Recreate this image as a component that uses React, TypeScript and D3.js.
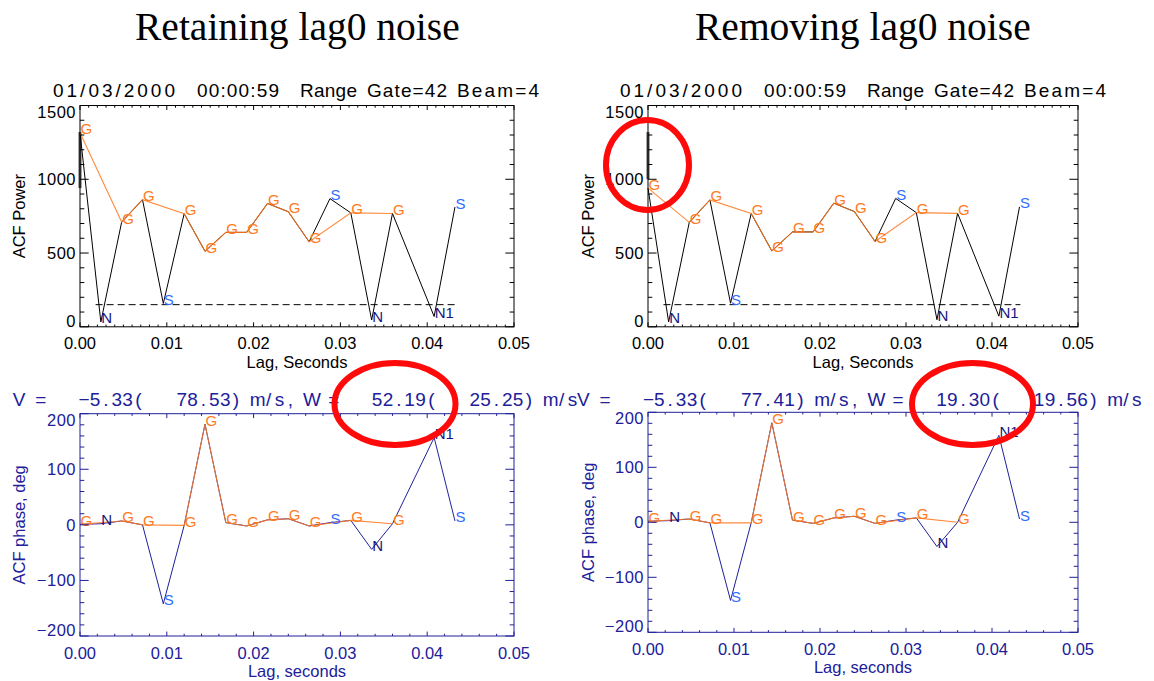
import React from 'react';
import * as d3 from 'd3';

// ---------------- data ----------------
const lagTimes = [0, 0.0024, 0.0048, 0.0072, 0.0096, 0.012, 0.0144, 0.0168, 0.0192, 0.0216, 0.024, 0.0264, 0.0288, 0.0312, 0.0336, 0.036, 0.0408, 0.0432];
const lagFlags = ['G', 'N', 'G', 'G', 'S', 'G', 'G', 'G', 'G', 'G', 'G', 'G', 'S', 'G', 'N', 'G', 'N1', 'S'];
const powerRetain = [1315, 33, 710, 862, 158, 767, 512, 640, 640, 836, 780, 576, 869, 772, 46, 768, 70, 812];
const powerRemove = [940, 33, 708, 860, 160, 768, 514, 643, 643, 838, 781, 578, 870, 774, 48, 769, 72, 813];
const lag0BarRetain = [940, 1320];
const lag0BarRemove = [1000, 1320];
const noiseLevel = 150;
const noiseSpan = [0.0018, 0.0433];
const phaseRetain = [1, 2, 7, 0, -142, -1, 181, 4, -2, 9, 11, -2, 4, 8, -44, 2, 157, 7];
const phaseRemove = [2, 3, 6, -1, -142, -1, 181, 4, -2, 8, 11, -2, 4, 8, -44, 0, 158, 6];
const xTicks = [0, 0.01, 0.02, 0.03, 0.04, 0.05];
const powerTicks = [0, 500, 1000, 1500];
const phaseTicks = [-200, -100, 0, 100, 200];
const titleLeft = 'Retaining lag0 noise';
const titleRight = 'Removing lag0 noise';
const headerParts = ['01/03/2000', '00:00:59', 'Range', 'Gate=42', 'Beam=4'];
const vRetain = 'V =   -5.33(   78.53) m/s, W =   52.19(   25.25) m/s';
const vRemove = 'V =   -5.33(   77.41) m/s, W =   19.30(   19.56) m/s';

// ---------------- styles ----------------
const FONT = "'Liberation Sans', Arial, Helvetica, sans-serif";
const NAVY = '#20209a';
const ORANGE = '#ff7a22';
const flagColor: Record<string, string> = { G: ORANGE, S: '#2f6cff', N: '#15157e', N1: '#15157e' };
const headerOffsets = [0, 144, 247, 314, 404];
const headerWidths = [122, 82, 57, 80, 82];

type PanelProps = {
  x0: number; x1: number; yTop: number; yBot: number;
  yDomain: [number, number]; yTicks: number[]; yMinor: number; xMinor: number;
  color: string; textColor: string; lineColor: string;
  yTitle: string; xTitle: string; yTitleX: number;
  values: number[]; bar?: number[]; noise?: boolean;
};

function Panel(p: PanelProps) {
  const x = d3.scaleLinear().domain([0, 0.05]).range([p.x0, p.x1]);
  const y = d3.scaleLinear().domain(p.yDomain).range([p.yBot, p.yTop]);
  const h = p.yBot - p.yTop;
  const w = p.x1 - p.x0;
  const xMajLen = 0.02 * h, xMinLen = 0.01 * h;
  const yMajLen = 0.02 * w, yMinLen = 0.01 * w;
  const xMinorTicks = d3.range(0, 0.05 + 1e-9, p.xMinor);
  const yMinorTicks = d3.range(p.yDomain[0], p.yDomain[1] + 1e-9, p.yMinor);
  const pts = lagTimes.map((t, i) => [x(t), y(p.values[i])] as [number, number]);
  const line = d3.line<[number, number]>();
  const gPts = pts.filter((_, i) => lagFlags[i] === 'G');
  const tickEls: JSX.Element[] = [];
  xMinorTicks.forEach((t, i) => {
    const isMaj = xTicks.some(m => Math.abs(m - t) < 1e-9);
    const L = isMaj ? xMajLen : xMinLen;
    tickEls.push(<line key={'xb' + i} x1={x(t)} x2={x(t)} y1={p.yBot} y2={p.yBot - L} />);
    tickEls.push(<line key={'xt' + i} x1={x(t)} x2={x(t)} y1={p.yTop} y2={p.yTop + L} />);
  });
  yMinorTicks.forEach((v, i) => {
    const isMaj = p.yTicks.some(m => Math.abs(m - v) < 1e-9);
    const L = isMaj ? yMajLen : yMinLen;
    tickEls.push(<line key={'yl' + i} x1={p.x0} x2={p.x0 + L} y1={y(v)} y2={y(v)} />);
    tickEls.push(<line key={'yr' + i} x1={p.x1} x2={p.x1 - L} y1={y(v)} y2={y(v)} />);
  });
  const n = p.yTicks.length;
  return (
    <g>
      {p.noise && (
        <line x1={x(noiseSpan[0])} x2={x(noiseSpan[1])} y1={y(noiseLevel)} y2={y(noiseLevel)}
          stroke="#000" strokeWidth={1} strokeDasharray="7 4" />
      )}
      {p.bar && (
        <line x1={x(0)} x2={x(0)} y1={y(p.bar[0])} y2={y(p.bar[1])} stroke="#505050" strokeWidth={3} />
      )}
      <path d={line(pts) || ''} fill="none" stroke={p.lineColor} strokeWidth={1} />
      <path d={line(gPts) || ''} fill="none" stroke={ORANGE} strokeOpacity={0.88} strokeWidth={1.1} />
      {pts.map((pt, i) => (
        <text key={'f' + i} x={pt[0] + 0.5} y={pt[1] + 1.5} fontSize={15} fill={flagColor[lagFlags[i]]}>{lagFlags[i]}</text>
      ))}
      <g stroke={p.color} strokeWidth={1}>
        <rect x={p.x0} y={p.yTop} width={w} height={h} fill="none" />
        {tickEls}
      </g>
      <g fill={p.textColor} fontSize={16.5}>
        {xTicks.map((t, i) => (
          <text key={'xl' + i} x={x(t)} y={p.yBot + 22.5} textAnchor="middle">{t.toFixed(2)}</text>
        ))}
        {p.yTicks.map((v, i) => {
          const yy = i === 0 ? y(v) : i === n - 1 ? y(v) + 12 : y(v) + 6;
          return <text key={'yl' + i} x={p.x0 - 4} y={yy} textAnchor="end" letterSpacing={0.5}>{String(v).replace('-', '\u2212')}</text>;
        })}
        <text x={(p.x0 + p.x1) / 2} y={p.yBot + 41} textAnchor="middle">{p.xTitle}</text>
        <text transform={`translate(${p.yTitleX},${(p.yTop + p.yBot) / 2}) rotate(-90)`} textAnchor="middle">{p.yTitle}</text>
      </g>
    </g>
  );
}

function MonoLine({ x0, y, text, color }: { x0: number; y: number; text: string; color: string }) {
  const cw = 10.85;
  const chars = Array.from(text.replace(/-/g, '\u2212'));
  const xs = chars.map((_, i) => (x0 + i * cw + cw / 2).toFixed(2)).join(' ');
  return (
    <text x={xs} y={y} textAnchor="middle" fontSize={19} fill={color} style={{ whiteSpace: 'pre' }}>
      {chars.join('')}
    </text>
  );
}

function Header({ base, y }: { base: number; y: number }) {
  return (
    <g fontSize={19} fill="#000">
      {headerParts.map((s, i) => (
        <text key={i} x={base + headerOffsets[i]} y={y} textLength={headerWidths[i]} lengthAdjust="spacing">{s}</text>
      ))}
    </g>
  );
}

export default function App() {
  const top = { yTop: 105.5, yBot: 326.8 };
  const bl = { yTop: 413.7, yBot: 636 };
  const br = { yTop: 412.3, yBot: 632.3 };
  return (
    <svg width={1154} height={681} style={{ position: 'absolute', left: 0, top: 0, background: '#fff' }} fontFamily={FONT}>
      <rect x={0} y={0} width={1154} height={681} fill="#fff" />
      <text x={135} y={40} fontFamily="'Liberation Serif', 'Times New Roman', serif" fontSize={39.5} fill="#000">{titleLeft}</text>
      <text x={695} y={40} fontFamily="'Liberation Serif', 'Times New Roman', serif" fontSize={39.5} fill="#000">{titleRight}</text>
      <Header base={53} y={97} />
      <Header base={620} y={97} />

      <Panel x0={80} x1={514} {...top} yDomain={[0, 1500]} yTicks={powerTicks} yMinor={100} xMinor={0.001}
        color="#000" textColor="#000" lineColor="#000" yTitle="ACF Power" xTitle="Lag, Seconds" yTitleX={25}
        values={powerRetain} bar={lag0BarRetain} noise />
      <Panel x0={648} x1={1078} {...top} yDomain={[0, 1500]} yTicks={powerTicks} yMinor={100} xMinor={0.001}
        color="#000" textColor="#000" lineColor="#000" yTitle="ACF Power" xTitle="Lag, Seconds" yTitleX={594}
        values={powerRemove} bar={lag0BarRemove} noise />

      <MonoLine x0={13.6} y={406} text={vRetain} color={NAVY} />
      <MonoLine x0={578} y={406} text={vRemove} color={NAVY} />

      <Panel x0={80} x1={514} {...bl} yDomain={[-200, 200]} yTicks={phaseTicks} yMinor={20} xMinor={0.002}
        color={NAVY} textColor={NAVY} lineColor={NAVY} yTitle="ACF phase, deg" xTitle="Lag, seconds" yTitleX={25}
        values={phaseRetain} />
      <Panel x0={648} x1={1078} {...br} yDomain={[-200, 200]} yTicks={phaseTicks} yMinor={20} xMinor={0.002}
        color={NAVY} textColor={NAVY} lineColor={NAVY} yTitle="ACF phase, deg" xTitle="Lag, seconds" yTitleX={594}
        values={phaseRemove} />

      <g fill="none" stroke="#ff0a0a" strokeWidth={6}>
        <ellipse cx={647.5} cy={165} rx={41.5} ry={45} />
        <ellipse cx={395} cy={404} rx={60.5} ry={41} />
        <ellipse cx={972.5} cy={404} rx={60.5} ry={41} />
      </g>
    </svg>
  );
}
